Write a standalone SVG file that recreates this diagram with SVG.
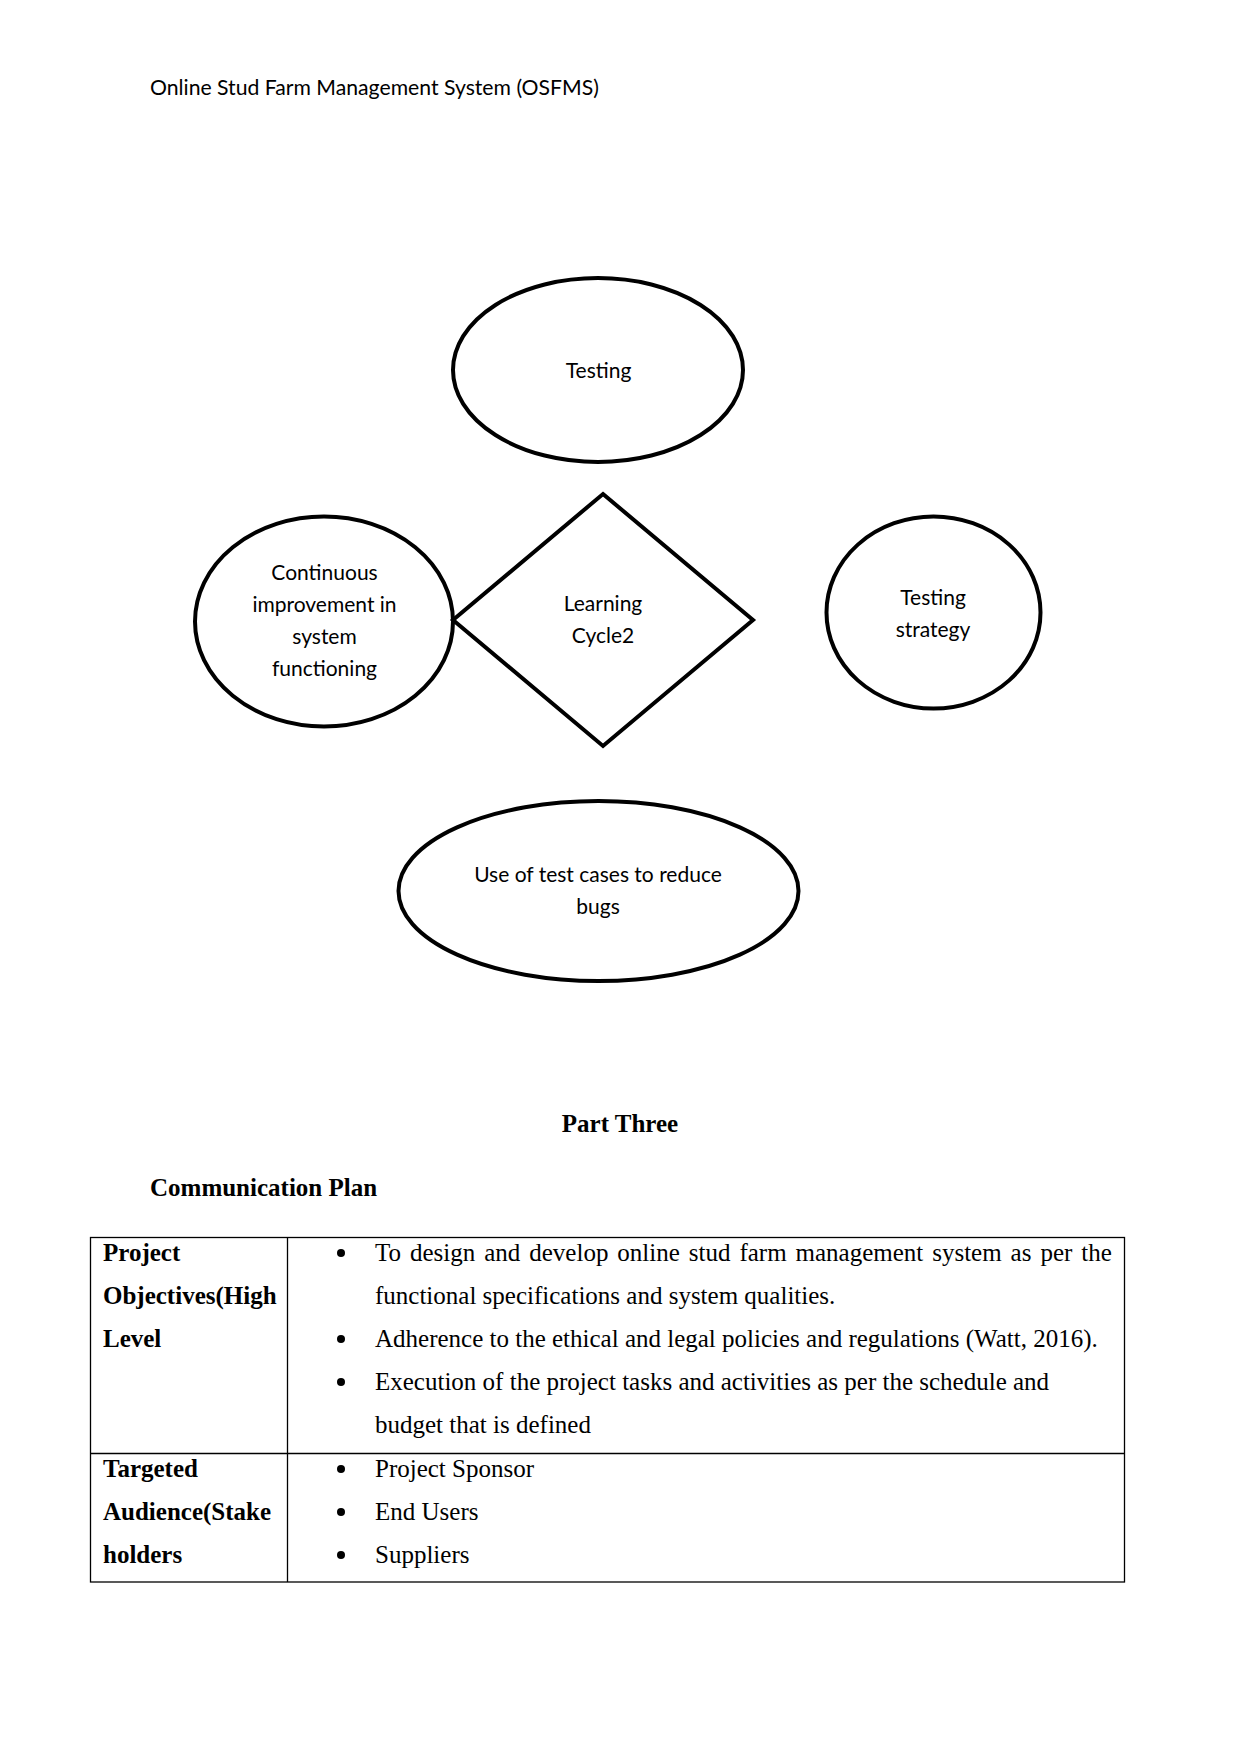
<svg xmlns="http://www.w3.org/2000/svg" width="1241" height="1754" viewBox="0 0 1241 1754">
<style>
.bg{fill:#ffffff}
.shape{fill:#ffffff;stroke:#000000;stroke-width:4}
.lbl{font-family:Lato,"Liberation Sans",sans-serif;font-size:21px;fill:#000000;text-anchor:middle}
.hdr{font-family:Lato,"Liberation Sans",sans-serif;font-size:21.2px;fill:#000000}
.serif{font-family:"Liberation Serif","Times New Roman",serif;font-size:25px;fill:#000000}
.bold{font-weight:bold}
.grid{fill:none;stroke:#000000;stroke-width:1.3}
.bul{fill:#000000}
</style>
<rect class="bg" x="0" y="0" width="1241" height="1754"/>
<text class="hdr" x="150" y="95">Online Stud Farm Management System (OSFMS)</text>

<g id="connectors"></g>

<g id="node-testing">
<ellipse class="shape" cx="598" cy="370" rx="145" ry="92"/>
<text class="lbl" x="598.5" y="378">Testing</text>
</g>

<g id="node-continuous">
<ellipse class="shape" cx="324" cy="621.5" rx="129" ry="105"/>
<text class="lbl" x="324.5" y="580">Continuous</text>
<text class="lbl" x="324.5" y="612">improvement in</text>
<text class="lbl" x="324.5" y="644">system</text>
<text class="lbl" x="324.5" y="676">functioning</text>
</g>

<g id="node-learning">
<polygon class="shape" points="603,494 753,620 603,746 453,620"/>
<text class="lbl" x="603" y="611">Learning</text>
<text class="lbl" x="603" y="643">Cycle2</text>
</g>

<g id="node-strategy">
<ellipse class="shape" cx="933.5" cy="612.5" rx="107" ry="96"/>
<text class="lbl" x="933" y="605">Testing</text>
<text class="lbl" x="933" y="637">strategy</text>
</g>

<g id="node-testcases">
<ellipse class="shape" cx="598.5" cy="891" rx="200" ry="90"/>
<text class="lbl" x="598" y="882">Use of test cases to reduce</text>
<text class="lbl" x="598" y="914">bugs</text>
</g>

<text class="serif bold" x="620" y="1132" text-anchor="middle">Part Three</text>
<text class="serif bold" x="150" y="1196">Communication Plan</text>

<g id="table">
<rect class="grid" x="90.5" y="1237.5" width="1034" height="344.5"/>
<line class="grid" x1="90.5" y1="1453.5" x2="1124.5" y2="1453.5"/>
<line class="grid" x1="287.5" y1="1237.5" x2="287.5" y2="1582"/>

<text class="serif bold" x="103" y="1261">Project</text>
<text class="serif bold" x="103" y="1304">Objectives(High</text>
<text class="serif bold" x="103" y="1347">Level</text>

<circle class="bul" cx="341" cy="1253" r="4"/>
<text class="serif" x="375" y="1261" word-spacing="2.7">To design and develop online stud farm management system as per the</text>
<text class="serif" x="375" y="1304">functional specifications and system qualities.</text>
<circle class="bul" cx="341" cy="1339" r="4"/>
<text class="serif" x="375" y="1347">Adherence to the ethical and legal policies and regulations (Watt, 2016).</text>
<circle class="bul" cx="341" cy="1382" r="4"/>
<text class="serif" x="375" y="1390">Execution of the project tasks and activities as per the schedule and</text>
<text class="serif" x="375" y="1433">budget that is defined</text>

<text class="serif bold" x="103" y="1477">Targeted</text>
<text class="serif bold" x="103" y="1520">Audience(Stake</text>
<text class="serif bold" x="103" y="1563">holders</text>

<circle class="bul" cx="341" cy="1469" r="4"/>
<text class="serif" x="375" y="1477">Project Sponsor</text>
<circle class="bul" cx="341" cy="1512" r="4"/>
<text class="serif" x="375" y="1520">End Users</text>
<circle class="bul" cx="341" cy="1555" r="4"/>
<text class="serif" x="375" y="1563">Suppliers</text>
</g>
</svg>
